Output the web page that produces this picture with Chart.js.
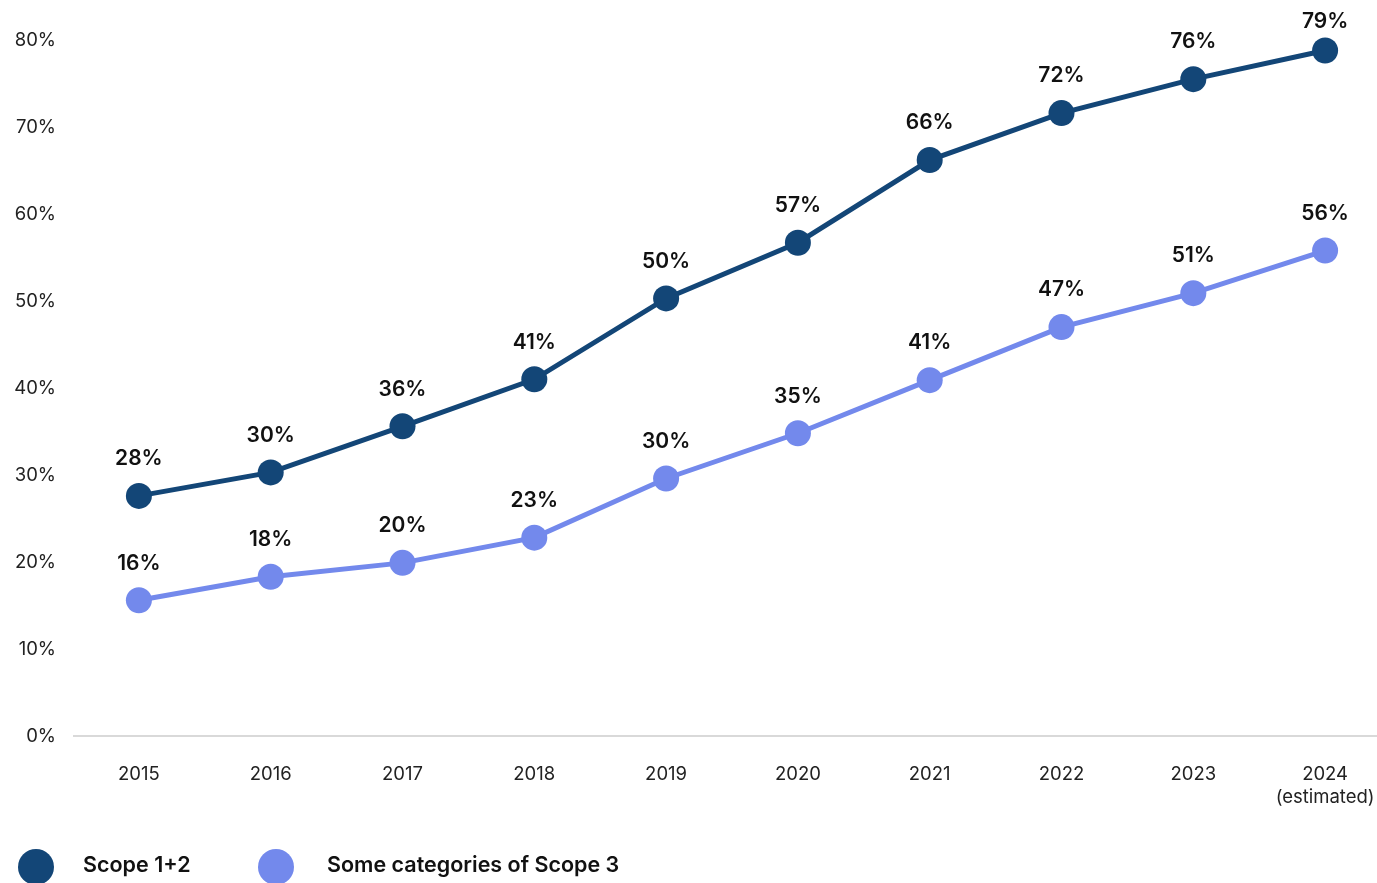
<!DOCTYPE html>
<html>
<head>
<meta charset="utf-8">
<script src="https://cdn.jsdelivr.net/npm/chart.js@4/dist/chart.umd.min.js"></script>
<style>
    html, body { margin: 0; padding: 0; background: #fff; overflow: hidden; }
    #scopeChart { display: block; width: 1404px; height: 883px; }
</style>
</head>
<body>
<canvas id="scopeChart" width="1404" height="883"></canvas>
<script>
// Chart data
const years = ['2015', '2016', '2017', '2018', '2019', '2020', '2021', '2022', '2023', ['2024', '(estimated)']];
const scope12 = [27.6, 30.3, 35.6, 41.0, 50.3, 56.7, 66.2, 71.6, 75.5, 78.8];
const scope3 = [15.6, 18.3, 19.9, 22.8, 29.6, 34.8, 40.9, 47.0, 50.9, 55.8];
const yTicks = [0, 10, 20, 30, 40, 50, 60, 70, 80];

const FONT = 'Inter, "Noto Sans", sans-serif';

// Draw rounded value labels above each point
const valueLabels = {
    id: 'valueLabels',
    afterDatasetsDraw(chart) {
        const ctx = chart.ctx;
        ctx.save();
        ctx.font = '600 21px ' + FONT;
        ctx.fillStyle = '#111';
        ctx.textAlign = 'center';
        ctx.textBaseline = 'middle';
        chart.data.datasets.forEach((ds, i) => {
            chart.getDatasetMeta(i).data.forEach((pt, j) => {
                const y = Math.max(pt.y - 37, 22);
                ctx.fillText(Math.round(ds.data[j]) + '%', pt.x, y);
            });
        });
        ctx.restore();
    }
};

// Big circle legend at bottom left
const bottomLegend = {
    id: 'bottomLegend',
    afterDraw(chart) {
        const ctx = chart.ctx;
        const items = [{ cx: 36, tx: 83 }, { cx: 276, tx: 327 }];
        ctx.save();
        ctx.font = '600 21.5px ' + FONT;
        ctx.textBaseline = 'middle';
        ctx.textAlign = 'left';
        chart.data.datasets.forEach((ds, i) => {
            const it = items[i];
            ctx.beginPath();
            ctx.arc(it.cx, 867, 18, 0, Math.PI * 2);
            ctx.fillStyle = ds.borderColor;
            ctx.fill();
            ctx.fillStyle = '#111';
            ctx.fillText(ds.label, it.tx, 866);
        });
        ctx.restore();
    }
};

new Chart(document.getElementById('scopeChart'), {
    type: 'line',
    data: {
        labels: years,
        datasets: [
            {
                label: 'Scope 1+2',
                data: scope12,
                borderColor: '#134677',
                backgroundColor: '#134677',
                borderWidth: 5,
                pointRadius: 13,
                pointHoverRadius: 13,
                pointBorderWidth: 0,
                tension: 0,
                clip: false
            },
            {
                label: 'Some categories of Scope 3',
                data: scope3,
                borderColor: '#7389ec',
                backgroundColor: '#7389ec',
                borderWidth: 5,
                pointRadius: 13,
                pointHoverRadius: 13,
                pointBorderWidth: 0,
                tension: 0,
                clip: false
            }
        ]
    },
    options: {
        responsive: false,
        animation: false,
        devicePixelRatio: 1,
        layout: { padding: { top: 40, right: 0, bottom: 57, left: 0 } },
        plugins: {
            legend: { display: false },
            tooltip: { enabled: false }
        },
        scales: {
            x: {
                offset: true,
                grid: { display: false, drawTicks: false },
                border: { display: false },
                ticks: {
                    color: '#222',
                    font: { family: FONT, size: 18.5, lineHeight: 1.25 },
                    padding: 27,
                    maxRotation: 0,
                    autoSkip: false
                },
                afterFit(scale) { scale.height = 90; }
            },
            y: {
                min: 0,
                max: 80,
                afterBuildTicks(scale) { scale.ticks = yTicks.map(v => ({ value: v })); },
                grid: {
                    drawTicks: false,
                    color: c => c.tick.value === 0 ? '#d9d9d9' : 'transparent',
                    lineWidth: 2
                },
                border: { display: false },
                ticks: {
                    color: '#222',
                    font: { family: FONT, size: 18.5 },
                    padding: 17,
                    callback: v => v + '%'
                },
                afterFit(scale) { scale.width = 73; }
            }
        }
    },
    plugins: [valueLabels, bottomLegend]
});
</script>
</body>
</html>
